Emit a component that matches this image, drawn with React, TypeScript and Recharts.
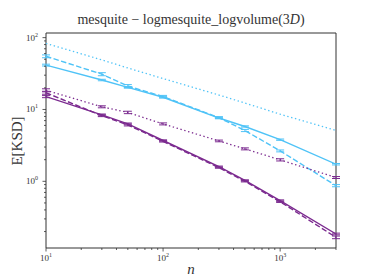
import { Line, LineChart, ErrorBar, ReferenceArea, XAxis, YAxis } from "recharts";

const CYAN = "#4fc3f7";
const PURPLE = "#7b2a8f";
const INK = "#333333";
const SERIF = "'Liberation Serif', 'DejaVu Serif', serif";

const sampleSizes = [10, 30, 50, 100, 300, 500, 1000, 3000];

const cyanSolid = [41.5, 25.7, 20.3, 14.8, 7.6, 5.8, 3.8, 1.73];
const cyanDashed = [55, 31, 21.2, 15.1, 7.7, 5.1, 2.65, 0.87];
const cyanDotted = [83, 49, 37.8, 26.9, 15.9, 12.3, 8.6, 5.1];
const purpleSolid = [15.1, 8.4, 6.3, 3.7, 1.6, 1.03, 0.54, 0.185];
const purpleDashed = [17.1, 8.2, 6.1, 3.6, 1.55, 1.0, 0.52, 0.166];
const purpleDotted = [18.5, 10.9, 9.1, 6.3, 3.65, 2.83, 1.99, 1.13];

const cyanSolidErr = [1.2, 0.6, 0.5, 0.3, 0.15, 0.12, 0.08, 0.04];
const cyanDashedErr = [2.5, 1.5, 1.0, 0.6, 0.25, 0.18, 0.08, 0.03];
const purpleSolidErr = [0.5, 0.25, 0.18, 0.08, 0.03, 0.02, 0.012, 0.005];
const purpleDashedErr = [0.8, 0.25, 0.2, 0.08, 0.03, 0.02, 0.012, 0.007];
const purpleDottedErr = [0.9, 0.35, 0.35, 0.2, 0.1, 0.09, 0.07, 0.035];

const xTicks = [10, 20, 30, 40, 50, 60, 70, 80, 90, 100, 200, 300, 400, 500, 600, 700, 800, 900, 1000, 2000, 3000];
const yTicks = [
  0.2, 0.3, 0.4, 0.5, 0.6, 0.7, 0.8, 0.9, 1, 2, 3, 4, 5, 6, 7, 8, 9, 10,
  20, 30, 40, 50, 60, 70, 80, 90, 100,
];

const X_DOMAIN = [10, 3000];
const Y_DOMAIN = [0.118, 116];

const data = sampleSizes.map((n, i) => ({
  n,
  cs: cyanSolid[i],
  cd: cyanDashed[i],
  co: cyanDotted[i],
  ps: purpleSolid[i],
  pd: purpleDashed[i],
  po: purpleDotted[i],
  csE: cyanSolidErr[i],
  cdE: cyanDashedErr[i],
  psE: purpleSolidErr[i],
  pdE: purpleDashedErr[i],
  poE: purpleDottedErr[i],
}));

function decade(v: number) {
  const e = Math.log10(v);
  return Math.abs(e - Math.round(e)) < 1e-9 ? Math.round(e) : null;
}

function XTick({ x, y, payload }: any) {
  const e = decade(payload.value);
  return (
    <g>
      <line x1={x} x2={x} y1={y} y2={y + (e !== null ? 3.5 : 2)} stroke={INK} strokeWidth={0.8} />
      {e !== null && (
        <text x={x} y={y + 13} textAnchor="middle" style={{ fontFamily: SERIF }} fontSize={9} fill={INK}>
          10
          <tspan dy={-4} fontSize={6}>{e}</tspan>
        </text>
      )}
    </g>
  );
}

function YTick({ x, y, payload }: any) {
  const e = decade(payload.value);
  return (
    <g>
      <line x1={x} x2={x - (e !== null ? 3.5 : 2)} y1={y} y2={y} stroke={INK} strokeWidth={0.8} />
      {e !== null && (
        <text x={x - 14} y={y + 3} textAnchor="middle" style={{ fontFamily: SERIF }} fontSize={9} fill={INK}>
          10
          <tspan dy={-4} fontSize={6}>{e}</tspan>
        </text>
      )}
    </g>
  );
}

export default function App() {
  return (
    <div style={{ position: "absolute", left: 0, top: 0, width: 374, height: 280, background: "#fff" }}>
      <LineChart
        width={374}
        height={280}
        data={data}
        margin={{ top: 33, right: 38, bottom: 0, left: 0 }}
      >
        <XAxis
          dataKey="n"
          type="number"
          scale="log"
          domain={X_DOMAIN}
          allowDataOverflow
          ticks={xTicks}
          interval={0}
          height={32}
          axisLine={false}
          tickLine={false}
          tickSize={0}
          tickMargin={0}
          tick={<XTick />}
        />
        <YAxis
          type="number"
          scale="log"
          domain={Y_DOMAIN}
          allowDataOverflow
          ticks={yTicks}
          interval={0}
          width={46}
          axisLine={false}
          tickLine={false}
          tickSize={0}
          tickMargin={0}
          tick={<YTick />}
        />
        <ReferenceArea
          x1={X_DOMAIN[0]}
          x2={X_DOMAIN[1]}
          y1={Y_DOMAIN[0]}
          y2={Y_DOMAIN[1]}
          fill="none"
          fillOpacity={0}
          stroke={INK}
          strokeWidth={1}
          strokeOpacity={1}
        />
        <Line dataKey="co" stroke={CYAN} strokeWidth={1.3} strokeDasharray="1.4 2.6" dot={false} isAnimationActive={false} />
        <Line dataKey="cd" stroke={CYAN} strokeWidth={1.4} strokeDasharray="5.5 2.4" dot={false} isAnimationActive={false}>
          <ErrorBar dataKey="cdE" width={4} stroke={CYAN} strokeWidth={1} />
        </Line>
        <Line dataKey="cs" stroke={CYAN} strokeWidth={1.4} dot={false} isAnimationActive={false}>
          <ErrorBar dataKey="csE" width={4} stroke={CYAN} strokeWidth={1} />
        </Line>
        <Line dataKey="po" stroke={PURPLE} strokeWidth={1.3} strokeDasharray="1.4 2.6" dot={false} isAnimationActive={false}>
          <ErrorBar dataKey="poE" width={4} stroke={PURPLE} strokeWidth={1} />
        </Line>
        <Line dataKey="pd" stroke={PURPLE} strokeWidth={1.4} strokeDasharray="5.5 2.4" dot={false} isAnimationActive={false}>
          <ErrorBar dataKey="pdE" width={4} stroke={PURPLE} strokeWidth={1} />
        </Line>
        <Line dataKey="ps" stroke={PURPLE} strokeWidth={1.4} dot={false} isAnimationActive={false}>
          <ErrorBar dataKey="psE" width={4} stroke={PURPLE} strokeWidth={1} />
        </Line>
        <text x={191} y={24} textAnchor="middle" style={{ fontFamily: SERIF }} fontSize={14} fill={INK}>
          mesquite − logmesquite_logvolume(3<tspan fontStyle="italic">D</tspan>)
        </text>
        <text
          x={22}
          y={141}
          textAnchor="middle"
          style={{ fontFamily: SERIF }}
          fontSize={15}
          fill={INK}
          transform="rotate(-90 22 141)"
        >
          E[KSD]
        </text>
        <text x={191} y={274} textAnchor="middle" style={{ fontFamily: SERIF }} fontSize={15} fontStyle="italic" fill={INK}>
          n
        </text>
      </LineChart>
    </div>
  );
}
